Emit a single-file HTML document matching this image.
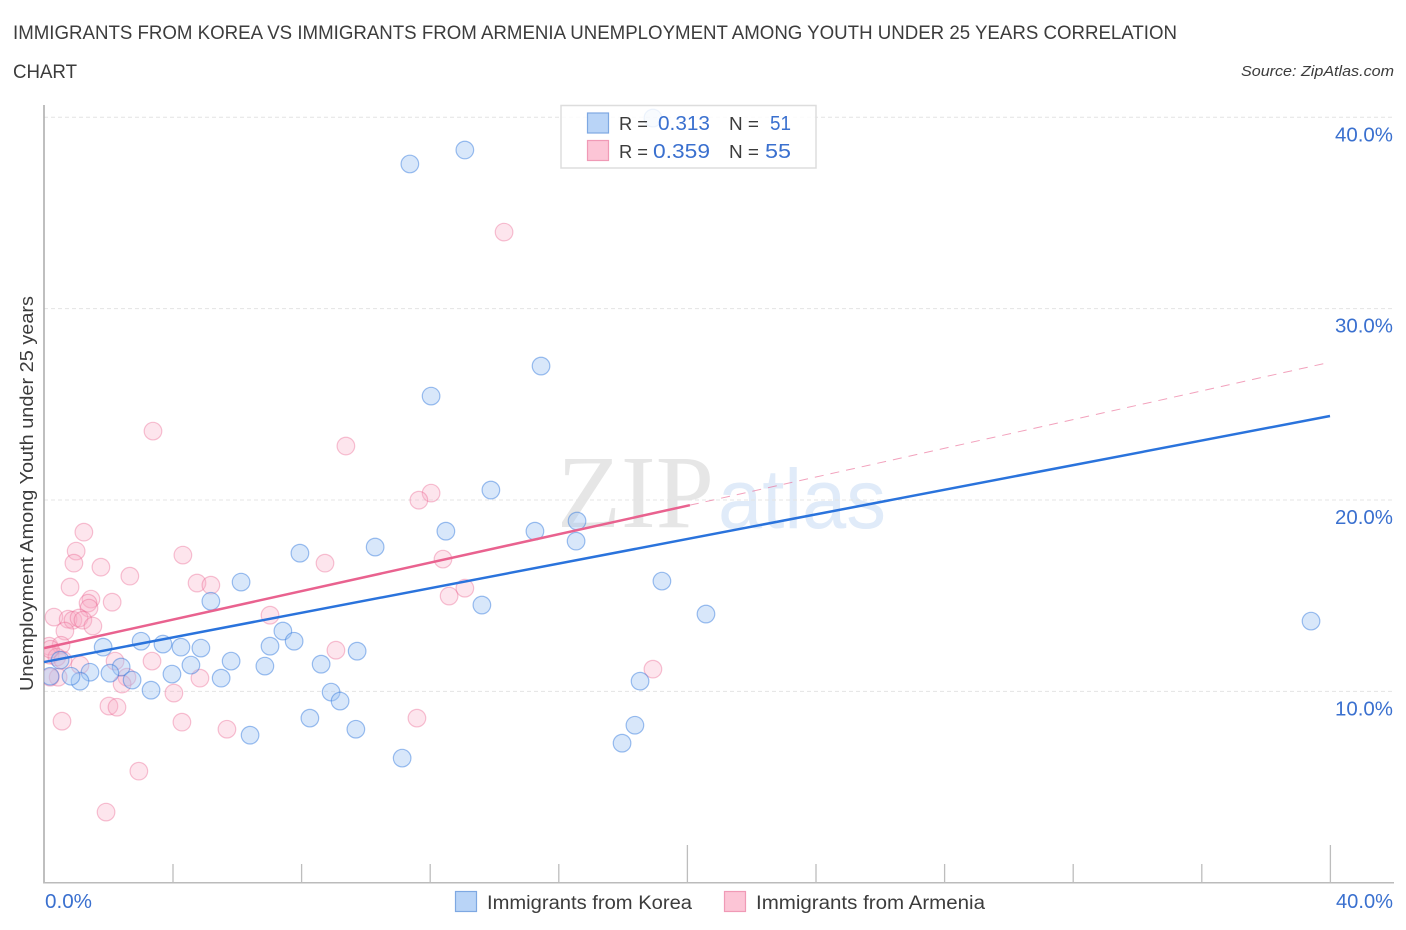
<!DOCTYPE html>
<html>
<head>
<meta charset="utf-8">
<title>Immigrants from Korea vs Immigrants from Armenia chart</title>
<style>
html,body{margin:0;padding:0;background:#fff;width:1406px;height:930px;overflow:hidden}
svg{display:block}
text{font-family:"Liberation Sans",sans-serif}
</style>
</head>
<body>
<svg id="chart" width="1406" height="930" viewBox="0 0 1406 930" xmlns="http://www.w3.org/2000/svg">
  <defs><clipPath id="plot-clip"><rect x="44" y="100" width="1350" height="783"/></clipPath></defs>
  <text x="13" y="39" font-size="19" fill="#3c3c3c" textLength="1164" lengthAdjust="spacingAndGlyphs">IMMIGRANTS FROM KOREA VS IMMIGRANTS FROM ARMENIA UNEMPLOYMENT AMONG YOUTH UNDER 25 YEARS CORRELATION</text>
  <text x="13" y="78" font-size="19" fill="#3c3c3c" textLength="64" lengthAdjust="spacingAndGlyphs">CHART</text>
  <text x="1241" y="76" font-size="15" font-style="italic" fill="#3c3c3c" textLength="153" lengthAdjust="spacingAndGlyphs">Source: ZipAtlas.com</text>
  <text transform="translate(33,691) rotate(-90)" font-size="18" fill="#3c3c3c" textLength="395" lengthAdjust="spacingAndGlyphs">Unemployment Among Youth under 25 years</text>
  <text x="557" y="527" font-size="104" fill="#e6e6e6" style="font-family:'Liberation Serif',serif" textLength="157" lengthAdjust="spacingAndGlyphs">ZIP</text>
  <text x="718" y="528" font-size="84" fill="#e0ebf9" style="font-family:'Liberation Sans',Arial,sans-serif" textLength="168" lengthAdjust="spacingAndGlyphs">atlas</text>
  <g id="grid"></g>
  <g id="axes"></g>
  <g id="points" clip-path="url(#plot-clip)"></g>
  <g id="trends"></g>
  <g>
    <rect x="561" y="105.500" width="255" height="62.500" fill="#fff" fill-opacity="0.82" stroke="#ddd" stroke-width="1.500"/>
    <rect x="587.500" y="113" width="21" height="20" fill="#b9d4f7" stroke="#7ea8e2" stroke-width="1.200"/>
    <rect x="587.500" y="140.500" width="21" height="20" fill="#fcc5d6" stroke="#f09ab6" stroke-width="1.200"/>
    <text x="619" y="130" font-size="18" fill="#3c3c3c" textLength="29" lengthAdjust="spacingAndGlyphs">R =</text>
    <text x="658" y="130" font-size="20" fill="#3a70cf" textLength="52" lengthAdjust="spacingAndGlyphs">0.313</text>
    <text x="729" y="130" font-size="18" fill="#3c3c3c" textLength="30" lengthAdjust="spacingAndGlyphs">N =</text>
    <text x="770" y="130" font-size="20" fill="#3a70cf" textLength="21" lengthAdjust="spacingAndGlyphs">51</text>
    <text x="619" y="158" font-size="18" fill="#3c3c3c" textLength="29" lengthAdjust="spacingAndGlyphs">R =</text>
    <text x="653" y="158" font-size="20" fill="#3a70cf" textLength="57" lengthAdjust="spacingAndGlyphs">0.359</text>
    <text x="729" y="158" font-size="18" fill="#3c3c3c" textLength="30" lengthAdjust="spacingAndGlyphs">N =</text>
    <text x="765" y="158" font-size="20" fill="#3a70cf" textLength="26" lengthAdjust="spacingAndGlyphs">55</text>
  </g>
  <g>
    <rect x="455.500" y="891.500" width="21" height="20" fill="#b9d4f7" stroke="#7ea8e2" stroke-width="1.200"/>
    <text x="487" y="909" font-size="19" fill="#3c3c3c" textLength="205" lengthAdjust="spacingAndGlyphs">Immigrants from Korea</text>
    <rect x="724.500" y="891.500" width="21" height="20" fill="#fcc5d6" stroke="#f09ab6" stroke-width="1.200"/>
    <text x="756" y="909" font-size="19" fill="#3c3c3c" textLength="229" lengthAdjust="spacingAndGlyphs">Immigrants from Armenia</text>
  </g>
</svg>
<script>
const xTicks = [0, 4, 8, 12, 16, 20, 24, 28, 32, 36, 40];
const majorXTicks = [0, 20, 40];
const yTicks = [10, 20, 30, 40];
const yTickLabels = ["10.0%", "20.0%", "30.0%", "40.0%"];
const xEndLabels = ["0.0%", "40.0%"];

const koreaX = [18.94,13.09,11.38,15.46,12.04,13.90,12.50,15.27,16.58,16.55,10.30,7.96,6.13,5.19,13.62,19.22,20.59,39.41,7.43,7.78,7.03,3.02,3.70,4.26,4.88,9.74,1.84,5.82,4.57,6.87,8.62,0.19,0.50,2.40,2.05,1.43,3.98,5.51,2.74,1.12,0.84,3.33,8.93,9.21,18.54,8.27,9.70,6.41,18.38,17.98,11.14];
const koreaY = [39.96,38.29,37.56,27.00,25.43,20.52,18.37,18.37,18.90,17.85,17.54,17.22,15.71,14.71,14.51,15.76,14.04,13.67,13.15,12.62,12.36,12.62,12.47,12.31,12.26,12.10,12.31,11.58,11.37,11.32,11.42,10.79,11.63,11.27,10.95,11.00,10.90,10.69,10.59,10.53,10.79,10.06,9.96,9.49,10.53,8.60,8.02,7.71,8.23,7.29,6.51];

const armeniaX = [14.31,3.39,9.39,12.04,11.66,1.24,1.00,0.93,1.77,2.67,4.32,8.74,12.41,0.81,4.76,5.19,13.09,12.60,1.46,1.37,1.40,2.12,0.31,0.75,0.90,1.09,1.21,1.52,7.03,0.65,0.16,0.53,9.08,0.19,0.40,0.59,2.21,1.12,3.36,18.94,2.58,2.43,0.44,0.19,4.85,4.04,2.02,2.27,0.56,4.29,5.69,11.60,2.95,1.93,0.20];
const armeniaY = [34.00,23.60,22.82,20.36,19.99,18.32,17.33,16.70,16.49,16.02,17.12,16.70,16.91,15.45,15.66,15.55,15.39,14.98,14.82,14.61,14.35,14.66,13.88,13.77,13.72,13.83,13.72,13.41,13.98,13.15,12.36,12.41,12.15,11.89,11.79,11.63,11.58,11.37,11.58,11.16,10.74,10.38,10.74,10.74,10.69,9.91,9.23,9.17,8.44,8.39,8.02,8.60,5.83,3.69,12.20];

const koreaTrendX = [0, 40];
const koreaTrendY = [11.53, 24.39];
const armeniaSolidX = [0, 20.09];
const armeniaSolidY = [12.26, 19.73];
const armeniaDashX = [20.09, 40];
const armeniaDashY = [19.73, 27.20];

const NS = "http://www.w3.org/2000/svg";
function xScale(v) { return 44 + v * (1330 - 44) / 40; }
function yScale(v) { return 882.7 - v * (882.7 - 117.3) / 40; }
function make(tag, attrs, parent) {
  const el = document.createElementNS(NS, tag);
  for (const k in attrs) el.setAttribute(k, attrs[k]);
  parent.appendChild(el);
  return el;
}
const gridG = document.getElementById("grid");
const axesG = document.getElementById("axes");
const pointsG = document.getElementById("points");
const trendsG = document.getElementById("trends");

yTicks.forEach(function (t, i) {
  const line = make("line", {x1: 44, x2: 1394, y1: yScale(t), y2: yScale(t), stroke: "#e4e4e4", "stroke-width": 1, "stroke-dasharray": "4 3"}, gridG);
  
  
  const label = make("text", {x: 1393, y: yScale(t) + 24, "font-size": 20, fill: "#3a70cf", "text-anchor": "end", textLength: 58, lengthAdjust: "spacingAndGlyphs"}, axesG);
  
  
  label.textContent = yTickLabels[i];
});

const yAxis = make("line", {x1: 44, x2: 44, y1: 105, y2: 883.5, stroke: "#aaa", "stroke-width": 1.500}, axesG);


const xAxis = make("line", {x1: 44, x2: 1394, y1: 882.7, y2: 882.7, stroke: "#bbb", "stroke-width": 1.500}, axesG);



xTicks.forEach(function (t) {
  if (t === 0) return;
  const major = majorXTicks.indexOf(t) >= 0;
  const tick = make("line", {x1: xScale(t) + 0.4, x2: xScale(t) + 0.4, y1: major ? 845 : 864, y2: 883, stroke: "#bdbdbd", "stroke-width": 1.300}, axesG);
  
  
});

const xLabelStart = make("text", {x: 45, y: 908, "font-size": 20, fill: "#3a70cf", textLength: 47, lengthAdjust: "spacingAndGlyphs"}, axesG);


xLabelStart.textContent = xEndLabels[0];
const xLabelEnd = make("text", {x: 1336, y: 908, "font-size": 20, fill: "#3a70cf", textLength: 57, lengthAdjust: "spacingAndGlyphs"}, axesG);


xLabelEnd.textContent = xEndLabels[1];

armeniaX.forEach(function (v, i) {
  const c = make("circle", {cx: xScale(v), cy: yScale(armeniaY[i]), r: 8.800, fill: "#f9a8c2", "fill-opacity": 0.3, stroke: "#e9628f", "stroke-opacity": 0.38, "stroke-width": 1.200}, pointsG);
  
  
});
koreaX.forEach(function (v, i) {
  const c = make("circle", {cx: xScale(v), cy: yScale(koreaY[i]), r: 8.800, fill: "#a3c6f3", "fill-opacity": 0.42, stroke: "#2a73dc", "stroke-opacity": 0.45, "stroke-width": 1.200}, pointsG);
  
  
});

const dash = make("line", {x1: xScale(armeniaDashX[0]), y1: yScale(armeniaDashY[0]), x2: xScale(armeniaDashX[1]), y2: yScale(armeniaDashY[1]), stroke: "#e9628f", "stroke-opacity": 0.6, "stroke-width": 1, "stroke-dasharray": "9 7"}, trendsG);


const pinkLine = make("line", {x1: xScale(armeniaSolidX[0]), y1: yScale(armeniaSolidY[0]), x2: xScale(armeniaSolidX[1]), y2: yScale(armeniaSolidY[1]), stroke: "#e9628f", "stroke-width": 2.500}, trendsG);


const blueLine = make("line", {x1: xScale(koreaTrendX[0]), y1: yScale(koreaTrendY[0]), x2: xScale(koreaTrendX[1]), y2: yScale(koreaTrendY[1]), stroke: "#2a73dc", "stroke-width": 2.500}, trendsG);


</script>
</body>
</html>
